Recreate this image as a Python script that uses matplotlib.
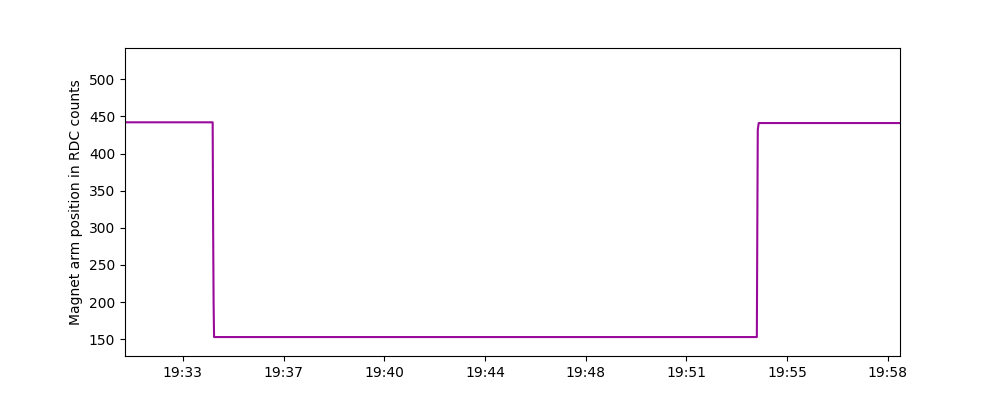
import datetime as dt
import matplotlib
matplotlib.use("Agg")
import matplotlib.pyplot as plt
import matplotlib.dates as mdates

# magnet arm readout (RDC counts) sampled over the run
day = "2023-06-14"
times = ["19:31:32", "19:34:40", "19:34:41", "19:34:42", "19:34:43",
         "19:54:07", "19:54:08", "19:54:09", "19:54:11", "19:59:14"]
counts = [442, 442, 300, 200, 153, 153, 300, 432, 441, 441]

t = [dt.datetime.strptime(f"{day} {s}", "%Y-%m-%d %H:%M:%S") for s in times]
x = mdates.date2num(t)

fig, ax = plt.subplots(figsize=(10, 4))
ax.plot(x, counts, color="#9a0a9a", linewidth=1.5)

# plain float axis, formatted as clock time
ax.xaxis.set_major_formatter(mdates.DateFormatter("%H:%M"))
ax.set_xlim(x[0], x[-1])
ax.set_ylim(127.5, 542)
ax.set_ylabel("Magnet arm position in RDC counts")

plt.savefig("out.png", dpi=100)
